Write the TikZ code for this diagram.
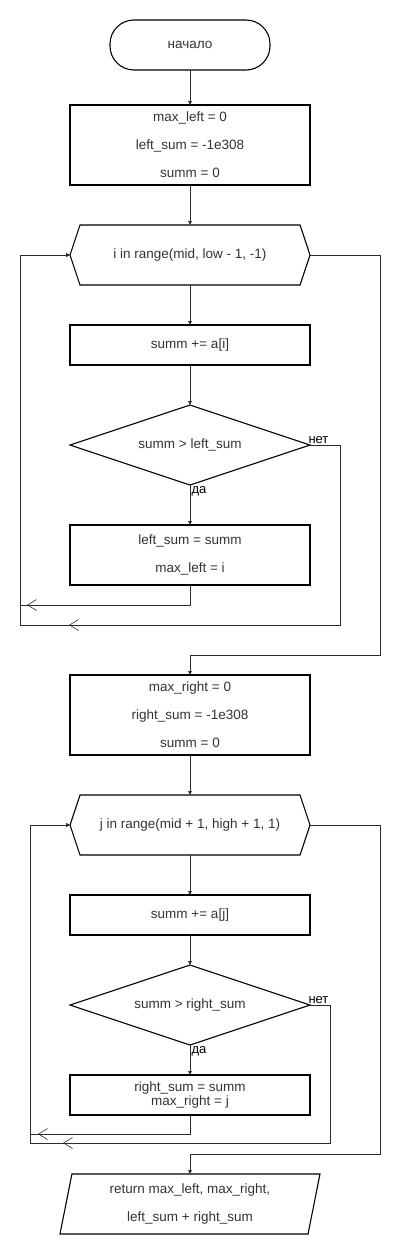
\documentclass[tikz,border=0pt]{standalone}
\usepackage{fontspec}
\setmainfont{Liberation Sans}
\usetikzlibrary{positioning,shapes.geometric,shapes.symbols,arrows.meta,decorations.markings}
\definecolor{txtgray}{HTML}{333333}
\definecolor{edgegray}{HTML}{2B2B2B}

\begin{document}
\begin{tikzpicture}[
    x=1pt, y=-1pt,
    node distance=40pt,
    every node/.style={outer sep=0pt, text=txtgray, font=\fontsize{13.5}{16}\selectfont},
    term/.style={rectangle, rounded corners=24pt, draw=black, line width=1.1pt,
                 minimum width=160pt, minimum height=50pt},
    proc/.style={rectangle, draw=black, line width=1.1pt, align=center,
                 minimum width=240pt, minimum height=#1},
    loophead/.style={signal, signal to=west and east, signal pointer angle=143.13,
                     draw=black, line width=1.1pt, inner sep=0pt,
                     minimum width=240pt, minimum height=60pt},
    cond/.style={diamond, aspect=3, draw=black, line width=1.1pt, inner sep=0pt,
                 minimum width=240pt, minimum height=80pt},
    io/.style={trapezium, trapezium left angle=73.6, trapezium right angle=106.4,
               trapezium stretches body, draw=black, line width=1.1pt, align=center,
               inner sep=0pt, minimum width=260pt, minimum height=60pt},
    arr/.style={draw=edgegray, line width=1pt, -{Triangle[length=4pt,width=3.5pt]}},
    back/.style={postaction={decorate, decoration={markings,
                 mark=at position #1 with {\arrow{Straight Barb[length=9pt,width=11pt,line width=0.6pt]}}}}},
    lbl/.style={text=black, font=\fontsize{13}{14}\selectfont, inner sep=1.5pt}
]
\useasboundingbox (0,0) rectangle (400,1255);

% first loop (left half)
\node[term] (start) at (190,45) {начало};
\node[proc=80pt, below=35pt of start, font=\fontsize{13.5}{28}\selectfont] (init1)
    {max\_left = 0\\left\_sum = -1e308\\summ = 0};
\node[loophead, below=of init1] (loop1) {i in range(mid, low - 1, -1)};
\node[proc=40pt, below=of loop1] (add1) {summ += a[i]};
\node[cond, below=of add1] (cond1) {summ > left\_sum};
\node[proc=60pt, below=of cond1, font=\fontsize{13.5}{28}\selectfont] (upd1)
    {left\_sum = summ\\max\_left = i};

% second loop (right half)
\node[proc=80pt, below=90pt of upd1, font=\fontsize{13.5}{28}\selectfont] (init2)
    {max\_right = 0\\right\_sum = -1e308\\summ = 0};
\node[loophead, below=of init2] (loop2) {j in range(mid + 1, high + 1, 1)};
\node[proc=40pt, below=of loop2] (add2) {summ += a[j]};
\node[cond, below=30pt of add2] (cond2) {summ > right\_sum};
\node[proc=40pt, below=30pt of cond2, font=\fontsize{13.5}{14}\selectfont] (upd2)
    {right\_sum = summ\\max\_right = j};
\node[io, below=59pt of upd2, font=\fontsize{13.5}{28}\selectfont] (out)
    {return max\_left, max\_right,\\left\_sum + right\_sum};

\draw[arr] (start) -- (init1);
\draw[arr] (init1) -- (loop1);
\draw[arr] (loop1) -- (add1);
\draw[arr] (add1) -- (cond1);
\draw[arr] (cond1) -- node[lbl, pos=0, anchor=north west] {да} (upd1);
\draw[arr, back=183pt] (upd1.south) -- ++(0,20) -| ([xshift=-50pt]loop1.west) -- (loop1.west);
\draw[arr, back=481pt] (cond1.east) node[lbl, anchor=south west, xshift=-3pt] {нет}
    -- ++(30,0) -- ++(0,180) -| ([xshift=-50pt]loop1.west) -- (loop1.west);
\draw[arr] (loop1.east) -- ++(70,0) |- ([yshift=20pt]init2.north) -- (init2.north);

\draw[arr] (init2) -- (loop2);
\draw[arr] (loop2) -- (add2);
\draw[arr] (add2) -- (cond2);
\draw[arr] (cond2) -- node[lbl, pos=0, anchor=north west] {да} (upd2);
\draw[arr, back=171pt] (upd2.south) -- ++(0,19) -| ([xshift=-40pt]loop2.west) -- (loop2.west);
\draw[arr, back=425pt] (cond2.east) node[lbl, anchor=south west, xshift=-3pt] {нет}
    -- ++(20,0) -- ++(0,138) -| ([xshift=-40pt]loop2.west) -- (loop2.west);
\draw[arr] (loop2.east) -- ++(70,0) |- ([yshift=20pt]out.north) -- (out.north);

\end{tikzpicture}
\end{document}
